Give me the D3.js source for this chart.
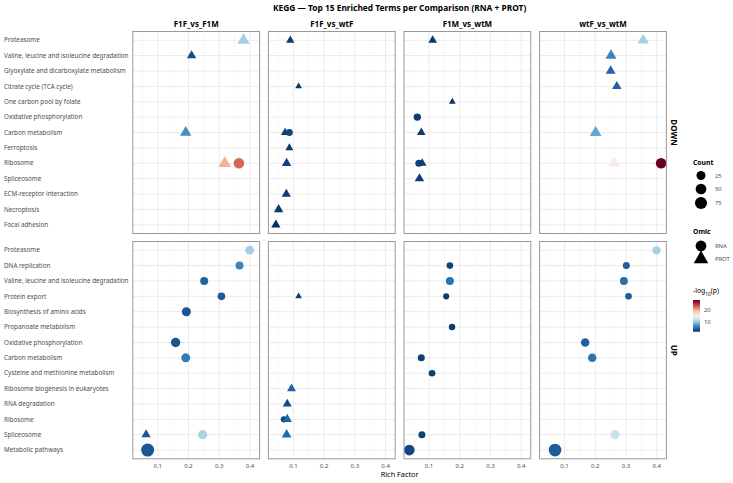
<!DOCTYPE html>
<html>
<head>
<meta charset="utf-8">
<script src="https://cdn.jsdelivr.net/npm/d3@7"></script>
<style>
  body { margin: 0; background: #fff; }
  svg { font-family: "Noto Sans", "DejaVu Sans", sans-serif; }
</style>
</head>
<body>
<svg id="chart" width="733" height="483"></svg>
<script>
// facets
const comparisons = ["F1F_vs_F1M", "F1F_vs_wtF", "F1M_vs_wtM", "wtF_vs_wtM"];
const directions = ["DOWN", "UP"];

// y categories per row (top to bottom)
const downTerms = [
  "Proteasome", "Valine, leucine and isoleucine degradation", "Glyoxylate and dicarboxylate metabolism",
  "Citrate cycle (TCA cycle)", "One carbon pool by folate", "Oxidative phosphorylation",
  "Carbon metabolism", "Ferroptosis", "Ribosome", "Spliceosome",
  "ECM-receptor interaction", "Necroptosis", "Focal adhesion"
];
const upTerms = [
  "Proteasome", "DNA replication", "Valine, leucine and isoleucine degradation", "Protein export",
  "Biosynthesis of amino acids", "Propanoate metabolism", "Oxidative phosphorylation",
  "Carbon metabolism", "Cysteine and methionine metabolism", "Ribosome biogenesis in eukaryotes",
  "RNA degradation", "Ribosome", "Spliceosome", "Metabolic pathways"
];

// [comparison, term, omic, rich factor, count, -log10(p)]
const downPoints = [
  ["F1F_vs_F1M", "Proteasome", "PROT", 0.379, 25, 10.7],
  ["F1F_vs_F1M", "Valine, leucine and isoleucine degradation", "PROT", 0.210, 8, 3.5],
  ["F1F_vs_F1M", "Carbon metabolism", "PROT", 0.191, 19, 6.9],
  ["F1F_vs_F1M", "Ribosome", "PROT", 0.318, 30, 19.8],
  ["F1F_vs_F1M", "Ribosome", "RNA", 0.364, 48, 22.9],
  ["F1F_vs_wtF", "Proteasome", "PROT", 0.090, 4, 2.4],
  ["F1F_vs_wtF", "Citrate cycle (TCA cycle)", "PROT", 0.117, 2, 2.2],
  ["F1F_vs_wtF", "Carbon metabolism", "PROT", 0.073, 4, 2.6],
  ["F1F_vs_wtF", "Carbon metabolism", "RNA", 0.087, 7, 3.0],
  ["F1F_vs_wtF", "Ferroptosis", "PROT", 0.087, 3, 2.3],
  ["F1F_vs_wtF", "Ribosome", "PROT", 0.078, 8, 2.8],
  ["F1F_vs_wtF", "ECM-receptor interaction", "PROT", 0.077, 7, 2.5],
  ["F1F_vs_wtF", "Necroptosis", "PROT", 0.052, 8, 2.4],
  ["F1F_vs_wtF", "Focal adhesion", "PROT", 0.043, 7, 1.9],
  ["F1M_vs_wtM", "Proteasome", "PROT", 0.112, 5, 2.4],
  ["F1M_vs_wtM", "One carbon pool by folate", "PROT", 0.176, 2, 2.2],
  ["F1M_vs_wtM", "Oxidative phosphorylation", "RNA", 0.062, 10, 2.5],
  ["F1M_vs_wtM", "Carbon metabolism", "PROT", 0.075, 5, 2.6],
  ["F1M_vs_wtM", "Ribosome", "RNA", 0.067, 8, 2.7],
  ["F1M_vs_wtM", "Ribosome", "PROT", 0.078, 5, 2.5],
  ["F1M_vs_wtM", "Spliceosome", "PROT", 0.069, 8, 2.6],
  ["wtF_vs_wtM", "Proteasome", "PROT", 0.356, 19, 10.8],
  ["wtF_vs_wtM", "Valine, leucine and isoleucine degradation", "PROT", 0.251, 17, 6.4],
  ["wtF_vs_wtM", "Glyoxylate and dicarboxylate metabolism", "PROT", 0.250, 10, 4.6],
  ["wtF_vs_wtM", "Citrate cycle (TCA cycle)", "PROT", 0.270, 8, 4.3],
  ["wtF_vs_wtM", "Carbon metabolism", "PROT", 0.201, 22, 8.3],
  ["wtF_vs_wtM", "Ribosome", "PROT", 0.261, 25, 16.0],
  ["wtF_vs_wtM", "Ribosome", "RNA", 0.414, 48, 28.5]
];
const upPoints = [
  ["F1F_vs_F1M", "Proteasome", "RNA", 0.399, 22, 10.7],
  ["F1F_vs_F1M", "DNA replication", "RNA", 0.366, 15, 6.4],
  ["F1F_vs_F1M", "Valine, leucine and isoleucine degradation", "RNA", 0.251, 15, 4.5],
  ["F1F_vs_F1M", "Protein export", "RNA", 0.307, 12, 4.0],
  ["F1F_vs_F1M", "Biosynthesis of amino acids", "RNA", 0.193, 25, 3.8],
  ["F1F_vs_F1M", "Oxidative phosphorylation", "RNA", 0.158, 30, 3.8],
  ["F1F_vs_F1M", "Carbon metabolism", "RNA", 0.191, 25, 5.9],
  ["F1F_vs_F1M", "Spliceosome", "PROT", 0.062, 7, 3.8],
  ["F1F_vs_F1M", "Spliceosome", "RNA", 0.246, 28, 11.0],
  ["F1F_vs_F1M", "Metabolic pathways", "RNA", 0.067, 95, 3.8],
  ["F1F_vs_wtF", "Protein export", "PROT", 0.117, 2, 2.5],
  ["F1F_vs_wtF", "Ribosome biogenesis in eukaryotes", "PROT", 0.094, 6, 4.5],
  ["F1F_vs_wtF", "RNA degradation", "PROT", 0.080, 6, 3.2],
  ["F1F_vs_wtF", "Ribosome", "RNA", 0.069, 4, 3.0],
  ["F1F_vs_wtF", "Ribosome", "PROT", 0.080, 8, 4.6],
  ["F1F_vs_wtF", "Spliceosome", "PROT", 0.078, 9, 4.8],
  ["F1M_vs_wtM", "DNA replication", "RNA", 0.168, 6, 2.8],
  ["F1M_vs_wtM", "Valine, leucine and isoleucine degradation", "RNA", 0.168, 15, 5.3],
  ["F1M_vs_wtM", "Protein export", "RNA", 0.156, 4, 2.6],
  ["F1M_vs_wtM", "Propanoate metabolism", "RNA", 0.175, 5, 2.6],
  ["F1M_vs_wtM", "Carbon metabolism", "RNA", 0.075, 8, 2.7],
  ["F1M_vs_wtM", "Cysteine and methionine metabolism", "RNA", 0.110, 6, 2.6],
  ["F1M_vs_wtM", "Spliceosome", "RNA", 0.077, 8, 2.8],
  ["F1M_vs_wtM", "Metabolic pathways", "RNA", 0.036, 48, 3.0],
  ["wtF_vs_wtM", "Proteasome", "RNA", 0.399, 15, 10.8],
  ["wtF_vs_wtM", "DNA replication", "RNA", 0.301, 8, 4.3],
  ["wtF_vs_wtM", "Valine, leucine and isoleucine degradation", "RNA", 0.293, 15, 5.2],
  ["wtF_vs_wtM", "Protein export", "RNA", 0.308, 6, 4.0],
  ["wtF_vs_wtM", "Oxidative phosphorylation", "RNA", 0.167, 20, 4.4],
  ["wtF_vs_wtM", "Carbon metabolism", "RNA", 0.190, 20, 5.4],
  ["wtF_vs_wtM", "Spliceosome", "RNA", 0.264, 28, 12.5],
  ["wtF_vs_wtM", "Metabolic pathways", "RNA", 0.069, 86, 4.1]
];

const xTicks = [0.1, 0.2, 0.3, 0.4];
const xMinor = [0.05, 0.15, 0.25, 0.35];
const countBreaks = [25, 50, 75];
const colorBreaks = [10, 20];
const omics = ["RNA", "PROT"];

const rows = { DOWN: downTerms, UP: upTerms };
const points = { DOWN: downPoints, UP: upPoints };
const allPoints = downPoints.concat(upPoints);

// layout
const panelX0 = 132.3, panelStep = 135.6, panelW = 127.8;
const rowBox = { DOWN: [31, 234], UP: [241, 459.3] };
const gridColor = "#ebebeb", minorColor = "#f4f4f4", borderColor = "#999999";
const textGrey = "#4d4d4d";

const svg = d3.select("#chart");

// scales
const [rfMin, rfMax] = d3.extent(allPoints, d => d[3]);
const pad = (rfMax - rfMin) * 0.05;
const x = d3.scaleLinear().domain([rfMin - pad, rfMax + pad]).range([0, panelW]);

const [lpMin, lpMax] = d3.extent(allPoints, d => d[5]);
const color = d3.scaleSequential(t => d3.interpolateRdBu(1 - t)).domain([lpMin, lpMax]);

const [nMin, nMax] = d3.extent(allPoints, d => d[4]);
const radius = d3.scaleSqrt().domain([0, nMax - nMin]).range([0, 4]);
const rOf = n => 2.5 + radius(Math.max(0, n - nMin));

const symbolPath = (omic, r) => d3.symbol()
  .type(omic === "RNA" ? d3.symbolCircle : d3.symbolTriangle)
  .size(Math.PI * r * r)();

// title
svg.append("text")
  .attr("x", panelX0 + (panelStep * 3 + panelW) / 2)
  .attr("y", 11)
  .attr("text-anchor", "middle")
  .style("font-size", "8.4px")
  .style("font-weight", "bold")
  .text("KEGG \u2014 Top 15 Enriched Terms per Comparison (RNA + PROT)");

directions.forEach(dir => {
  const terms = rows[dir];
  const [y0, y1] = rowBox[dir];
  const y = d3.scalePoint().domain(terms).range([y0, y1]).padding(0.6);

  // y labels
  svg.append("g").selectAll("text")
    .data(terms)
    .join("text")
    .attr("x", 4)
    .attr("y", d => y(d))
    .attr("dy", "0.35em")
    .style("font-size", "6.3px")
    .style("fill", textGrey)
    .text(d => d);

  comparisons.forEach((cmp, ci) => {
    const px = panelX0 + ci * panelStep;
    const g = svg.append("g").attr("transform", `translate(${px},0)`);

    g.append("rect")
      .attr("x", 0).attr("y", y0)
      .attr("width", panelW).attr("height", y1 - y0)
      .attr("fill", "#fff");

    g.selectAll("line.minor")
      .data(xMinor)
      .join("line")
      .attr("class", "minor")
      .attr("x1", d => x(d)).attr("x2", d => x(d))
      .attr("y1", y0).attr("y2", y1)
      .attr("stroke", minorColor).attr("stroke-width", 0.6);

    g.selectAll("line.vmajor")
      .data(xTicks)
      .join("line")
      .attr("class", "vmajor")
      .attr("x1", d => x(d)).attr("x2", d => x(d))
      .attr("y1", y0).attr("y2", y1)
      .attr("stroke", gridColor).attr("stroke-width", 1);

    g.selectAll("line.hmajor")
      .data(terms)
      .join("line")
      .attr("class", "hmajor")
      .attr("x1", 0).attr("x2", panelW)
      .attr("y1", d => y(d)).attr("y2", d => y(d))
      .attr("stroke", gridColor).attr("stroke-width", 1);

    g.selectAll("path.pt")
      .data(points[dir].filter(d => d[0] === cmp))
      .join("path")
      .attr("class", "pt")
      .attr("transform", d => `translate(${x(d[3])},${y(d[1])})`)
      .attr("d", d => symbolPath(d[2], rOf(d[4])))
      .attr("fill", d => color(d[5]));

    g.append("rect")
      .attr("x", 0.5).attr("y", y0 + 0.5)
      .attr("width", panelW - 1).attr("height", y1 - y0 - 1)
      .attr("fill", "none")
      .attr("stroke", borderColor).attr("stroke-width", 1);

    if (dir === "DOWN") {
      svg.append("text")
        .attr("x", px + panelW / 2)
        .attr("y", 27)
        .attr("text-anchor", "middle")
        .style("font-size", "8px")
        .style("font-weight", "bold")
        .text(cmp);
    } else {
      g.selectAll("text.tick")
        .data(xTicks)
        .join("text")
        .attr("class", "tick")
        .attr("x", d => x(d))
        .attr("y", 467.5)
        .attr("text-anchor", "middle")
        .style("font-size", "6px")
        .style("fill", textGrey)
        .text(d => d3.format(".1f")(d));
    }
  });

  // right strip
  const sx = panelX0 + 3 * panelStep + panelW + 6.5;
  svg.append("text")
    .attr("transform", `translate(${sx},${(y0 + y1) / 2}) rotate(90)`)
    .attr("text-anchor", "middle")
    .attr("dy", "0.35em")
    .style("font-size", "8px")
    .style("font-weight", "bold")
    .text(dir);
});

// x axis title
svg.append("text")
  .attr("x", panelX0 + (panelStep * 3 + panelW) / 2)
  .attr("y", 477)
  .attr("text-anchor", "middle")
  .style("font-size", "7.3px")
  .text("Rich Factor");

// legends
const lx = 693;
const leg = svg.append("g");

leg.append("text").attr("x", lx).attr("y", 165)
  .style("font-size", "6.8px").style("font-weight", "bold").text("Count");
const sizeY = [175.5, 189, 203];
leg.selectAll("circle.size")
  .data(countBreaks)
  .join("circle")
  .attr("class", "size")
  .attr("cx", 701)
  .attr("cy", (d, i) => sizeY[i])
  .attr("r", d => rOf(d));
leg.selectAll("text.size")
  .data(countBreaks)
  .join("text")
  .attr("class", "size")
  .attr("x", 715)
  .attr("y", (d, i) => sizeY[i])
  .attr("dy", "0.35em")
  .style("font-size", "5.8px")
  .style("fill", textGrey)
  .text(d => d);

leg.append("text").attr("x", lx).attr("y", 234)
  .style("font-size", "6.8px").style("font-weight", "bold").text("Omic");
const omicY = [246, 259];
leg.selectAll("path.omic")
  .data(omics)
  .join("path")
  .attr("class", "omic")
  .attr("transform", (d, i) => `translate(701,${omicY[i]})`)
  .attr("d", d => symbolPath(d, 5.4))
  .attr("fill", "#000");
leg.selectAll("text.omic")
  .data(omics)
  .join("text")
  .attr("class", "omic")
  .attr("x", 715)
  .attr("y", (d, i) => omicY[i])
  .attr("dy", "0.35em")
  .style("font-size", "5.8px")
  .style("fill", textGrey)
  .text(d => d);

// -log10(p) title, subscript placed by hand
const lt = leg.append("text").attr("x", lx).attr("y", 293)
  .style("font-size", "6.8px");
lt.append("tspan").text("-log");
lt.append("tspan").attr("baseline-shift", "sub").style("font-size", "4.8px").text("10");
lt.append("tspan").text("(p)");

const barTop = 300, barBot = 331.7;
const cb = d3.scaleLinear().domain([lpMin, lpMax]).range([barBot, barTop]);
const grad = svg.append("defs").append("linearGradient")
  .attr("id", "lpgrad").attr("x1", 0).attr("x2", 0).attr("y1", 1).attr("y2", 0);
d3.range(0, 1.0001, 0.1).forEach(t => {
  grad.append("stop").attr("offset", t)
    .attr("stop-color", color(lpMin + t * (lpMax - lpMin)));
});
leg.append("rect")
  .attr("x", 693).attr("y", barTop)
  .attr("width", 7).attr("height", barBot - barTop)
  .attr("fill", "url(#lpgrad)");
leg.selectAll("line.cbt")
  .data(colorBreaks)
  .join("line")
  .attr("class", "cbt")
  .attr("x1", 693).attr("x2", 694.5)
  .attr("y1", d => cb(d)).attr("y2", d => cb(d))
  .attr("stroke", "#fff").attr("stroke-width", 0.5);
leg.selectAll("text.cbt")
  .data(colorBreaks)
  .join("text")
  .attr("class", "cbt")
  .attr("x", 704)
  .attr("y", d => cb(d))
  .attr("dy", "0.35em")
  .style("font-size", "5.8px")
  .style("fill", textGrey)
  .text(d => d);
</script>
</body>
</html>
